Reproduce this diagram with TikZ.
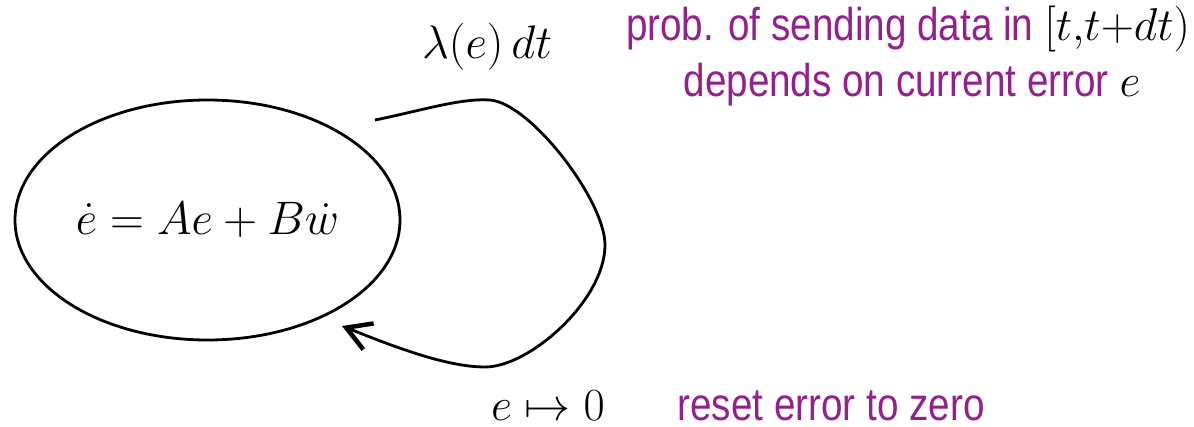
\RequirePackage{fix-cm}
\documentclass[tikz,border=0pt]{standalone}
\usepackage{fontspec}
\newfontfamily\narrowsans[FakeStretch=0.84]{Liberation Sans}
\usetikzlibrary{shapes.geometric,arrows.meta}
\definecolor{txtpurple}{RGB}{148,32,140}
\tikzset{
  mathlbl/.style={font=\fontsize{47}{56}\selectfont, inner sep=0pt, anchor=base},
  note/.style={font=\narrowsans\fontsize{46}{55}\selectfont, text=txtpurple, inner sep=0pt, anchor=base},
  statebox/.style={ellipse, draw, line width=2.8pt, minimum width=385pt, minimum height=240pt, inner sep=0pt, font=\fontsize{47}{56}\selectfont},
  loopline/.style={line width=2.8pt, -{Straight Barb[length=24pt, width=28pt, line width=4.5pt]}}
}
\begin{document}
\begin{tikzpicture}[x=1pt, y=-1pt]
\useasboundingbox (0,0) rectangle (1194,426);
\node[statebox] (eq) at (207.5,220) {$\dot e = Ae + B\dot w$};
\coordinate (s) at (375,120);
\coordinate (t1) at (490,100);
\coordinate (r) at (605,245);
\coordinate (b) at (485,367);
\coordinate (e) at (342,326);
\draw[loopline] (s) .. controls (420,111) and (460,98) .. (t1)
  .. controls (530,103) and (605,200) .. (r)
  .. controls (605,300) and (530,367) .. (b)
  .. controls (445,367) and (390,345) .. (e);
\node[mathlbl] (lam) at (487,58) {$\lambda(e)\,dt$};
\node[mathlbl, font=\fontsize{46}{55}\selectfont] (rst) at (548,420) {$e \mapsto 0$};
\node[note] (n1) at (908,40) {prob. of sending data in \textcolor{black}{$[t{,}t{+}dt)$}};
\node[note] (n2) at (912,96) {depends on current error \textcolor{black}{$e$}};
\node[note] (n3) at (831,420) {reset error to zero};
\end{tikzpicture}
\end{document}
